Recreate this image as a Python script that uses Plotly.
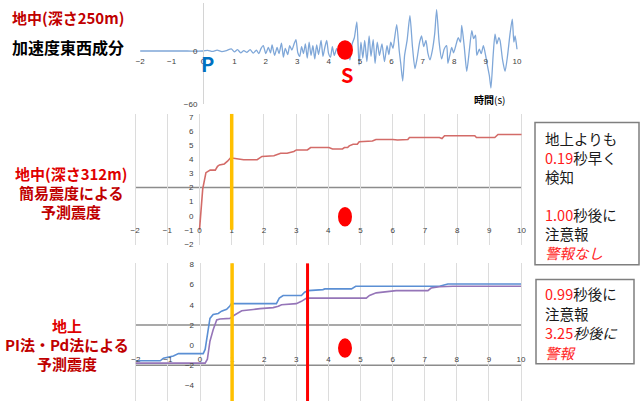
import plotly.graph_objects as go

W, H = 643, 406
def fx(px): return px / W
def fy(py): return 1 - py / H

# ---------------- data ----------------
tick_x = list(range(-2, 11))

# 地中(深さ250m) 加速度東西成分 (gal)
wave_t = [-2.0, -1.0, -0.5, 0.0, 0.15, 0.3, 0.45, 0.6, 0.75, 0.9, 1.0, 1.1, 1.2, 1.3, 1.4, 1.5, 1.6, 1.7,
          1.78, 1.85, 1.92, 2.0, 2.08, 2.15, 2.2, 2.28, 2.36, 2.42, 2.5, 2.56, 2.62, 2.7, 2.76, 2.83, 2.9,
          2.96, 3.02, 3.08, 3.14, 3.2, 3.26, 3.32, 3.38, 3.44, 3.5, 3.56, 3.62, 3.68, 3.76, 3.82, 3.88, 3.94,
          4.0, 4.06, 4.12, 4.18, 4.26, 4.32, 4.4, 4.5, 4.6, 4.68, 4.75, 4.82, 4.9, 4.97, 5.03, 5.09, 5.15,
          5.22, 5.29, 5.35, 5.42, 5.48, 5.55, 5.62, 5.7, 5.78, 5.86, 5.92, 5.98, 6.05, 6.1, 6.17, 6.25, 6.3,
          6.36, 6.42, 6.5, 6.59, 6.67, 6.75, 6.82, 6.9, 6.96, 7.03, 7.1, 7.16, 7.23, 7.3, 7.38, 7.44, 7.52,
          7.6, 7.68, 7.76, 7.8, 7.86, 7.92, 7.98, 8.05, 8.13, 8.2, 8.24, 8.32, 8.4, 8.48, 8.56, 8.62, 8.68,
          8.72, 8.8, 8.86, 8.93, 9.0, 9.05, 9.12, 9.17, 9.24, 9.3, 9.36, 9.42, 9.46, 9.54, 9.62, 9.7, 9.78,
          9.85, 9.9, 9.94, 10.0]
wave_a = [0, 0, 0, 0, 0.8, -0.5, 1, -0.8, 0.5, 2.5, -1, 1.5, -2, 0.5, -1.5, 1.5, -2.5, 1,
          -3, 3, 6, -3, 4, -2, 7, -5, 4, -3, 9, -7, 3, -4, 6, 1, 8,
          13, -2, -6, 5, -3, 8, -8, 10, -5, 6, -9, 7, -4, 12, -6, 4, 12,
          -3, -7, 5, -5, 3, -4, 2, -3, 6, -10, 8, 15, 33, -16, 10, -8, 12,
          -12, 17, -6, 13, -14, 10, -5, 8, -12, 6, -4, 10, 3, 14, 30, 0, -15,
          -34, -5, 12, 40, 5, -20, -8, 10, 17, 5, 12, -2, -10, 0, 20, 47, 10,
          -9, 2, 6, -14, -5, 4, -2, 6, 15, 10, 29, 5, -23, 0, 23, 14, 18,
          -5, 2, -3, 6, -5, -15, -28, -42, -5, 19, 8, 15, 12, -10, -23, -5, 20,
          36, 10, 17, 2]

# 地中(深さ312m) 簡易震度による予測震度
mid_t = [0.0, 0.1, 0.2, 0.33, 0.49, 0.56, 0.62, 0.77, 0.87, 0.96, 1.0, 1.27, 1.37, 1.79, 1.94, 2.31,
         2.52, 2.72, 2.93, 3.01, 3.35, 3.45, 4.02, 4.13, 4.44, 4.5, 4.6, 4.65, 4.77, 4.9, 4.96, 5.37,
         5.48, 6.0, 6.15, 6.47, 6.52, 7.45, 7.53, 7.61, 8.55, 8.6, 9.17, 9.27, 10.0]
mid_v = [-1.0, 1.9, 3.05, 3.23, 3.23, 3.5, 3.6, 3.67, 3.86, 4.09, 4.09, 4.0, 3.97, 3.97, 4.2, 4.25,
         4.43, 4.43, 4.55, 4.66, 4.66, 4.83, 4.83, 4.73, 4.73, 4.83, 4.83, 4.95, 5.06, 5.06, 5.24, 5.29,
         5.4, 5.4, 5.36, 5.4, 5.54, 5.54, 5.47, 5.66, 5.66, 5.54, 5.54, 5.75, 5.75]

# 地上 PI法
pl_t = [-2.0, -1.24, -1.14, -0.83, -0.67, 0.1, 0.16, 0.23, 0.31, 0.41, 0.57, 0.67, 0.83, 0.93, 0.98,
        2.38, 2.47, 2.59, 3.16, 3.26, 3.37, 3.83, 3.89, 4.72, 4.85, 7.46, 7.62, 7.72, 10.0]
pl_v = [-1.55, -1.55, -1.3, -1.07, -0.84, -0.84, -0.42, 1.04, 2.65, 3.04, 3.14, 3.37, 3.56, 3.88, 4.11,
        4.11, 4.66, 4.92, 4.92, 5.24, 5.4, 5.5, 5.57, 5.57, 5.83, 5.83, 5.95, 6.05, 6.05]

# 地上 Pd法
pd_t = [-2.0, 0.16, 0.23, 0.31, 0.41, 0.52, 0.62, 0.93, 1.04, 1.19, 1.3, 1.66, 1.87, 2.28, 2.44, 2.54,
        3.0, 3.16, 3.32, 5.18, 5.28, 5.49, 5.8, 6.11, 7.1, 7.2, 7.46, 7.88, 10.0]
pd_v = [-1.78, -1.78, -1.39, 0.39, 1.52, 2.5, 2.59, 2.65, 2.91, 3.24, 3.4, 3.53, 3.62, 3.72, 3.85, 4.01,
        4.11, 4.34, 4.66, 4.66, 4.92, 5.18, 5.31, 5.4, 5.4, 5.66, 5.79, 5.83, 5.83]

top_ticks_y = [-60, 0]
mid_ticks_y = list(range(-2, 8))
bot_ticks_y = [-4, -2, 0, 2, 4, 6, 8]
advisory_t = 1.0
warning_t = 3.35
threshold = 2

box1_lines = ["地上よりも",
              "<span style='color:#ff1a1a'>0.19</span>秒早く",
              "検知",
              "",
              "<span style='color:#ff1a1a'>1.00</span>秒後に",
              "注意報",
              "<span style='color:#ff1a1a'><i>警報なし</i></span>"]
box2_lines = ["<span style='color:#ff1a1a'>0.99</span>秒後に",
              "注意報",
              "<span style='color:#ff1a1a'>3.25</span><i>秒後に</i>",
              "<span style='color:#ff1a1a'><i>警報</i></span>"]

# ---------------- figure ----------------
fig = go.Figure()
fig.add_trace(go.Scatter(x=wave_t, y=wave_a, mode="lines", xaxis="x", yaxis="y",
                         line=dict(color="#7fa7d8", width=1.3, shape="spline", smoothing=0.6)))
fig.add_trace(go.Scatter(x=mid_t, y=mid_v, mode="lines", xaxis="x2", yaxis="y2",
                         line=dict(color="#d36b68", width=1.6)))
fig.add_trace(go.Scatter(x=pl_t, y=pl_v, mode="lines", xaxis="x3", yaxis="y3",
                         line=dict(color="#5b8fd4", width=1.6)))
fig.add_trace(go.Scatter(x=pd_t, y=pd_v, mode="lines", xaxis="x3", yaxis="y3",
                         line=dict(color="#9575b8", width=1.6)))

tickfont = dict(family="Liberation Sans, Arial", size=8, color="#404040")

# panel geometry (pixels)
t0 = [203, 199.5, 200]
unit = [31.4, 32.2, 32.1]
xr = [-2.2, 10.2]

def xdom(i):
    return [fx(t0[i] + xr[0] * unit[i]), fx(t0[i] + xr[1] * unit[i])]

ax_common = dict(showline=False, zeroline=False, ticks="", tickfont=tickfont, fixedrange=True)

fig.update_layout(
    width=W, height=H, margin=dict(l=0, r=0, t=0, b=0),
    paper_bgcolor="white", plot_bgcolor="rgba(0,0,0,0)", showlegend=False,
    xaxis=dict(domain=xdom(0), range=xr, anchor="free", position=fy(53), tickvals=tick_x,
               showgrid=False, **ax_common),
    yaxis=dict(domain=[fy(103), fy(0)], range=[-60, 54.4], anchor="free", position=fx(t0[0]),
               tickvals=top_ticks_y, showgrid=False, ticklabelstandoff=4,
               **{k: v for k, v in ax_common.items() if k != "showline"},
               showline=True, linecolor="#d4d4d4", linewidth=1),
    xaxis2=dict(domain=xdom(1), range=xr, anchor="free", position=fy(225), tickvals=tick_x,
                showgrid=True, gridcolor="#dcdcdc", gridwidth=1, **ax_common),
    yaxis2=dict(domain=[fy(247), fy(113)], range=[-2.08, 7.22], anchor="free", position=fx(t0[1]),
                tickvals=mid_ticks_y, showgrid=False, ticklabelstandoff=6, **ax_common),
    xaxis3=dict(domain=xdom(2), range=xr, anchor="free", position=fy(357), tickvals=tick_x,
                showgrid=True, gridcolor="#dcdcdc", gridwidth=1, **ax_common),
    yaxis3=dict(domain=[fy(406), fy(265.6)], range=[-5.53, 8.1], anchor="free", position=fx(t0[2]),
                tickvals=bot_ticks_y, showgrid=False, ticklabelstandoff=6, **ax_common),
)

shapes = []
# threshold lines
shapes.append(dict(type="line", xref="x2", yref="y2", x0=-2, x1=10, y0=threshold, y1=threshold,
                   line=dict(color="#8c8c8c", width=1.5), layer="below"))
for yv in [threshold, -threshold]:
    shapes.append(dict(type="line", xref="x3", yref="y3", x0=-2, x1=10, y0=yv, y1=yv,
                       line=dict(color="#8c8c8c", width=1.5), layer="below"))
# advisory / warning markers
shapes.append(dict(type="line", xref="x2", yref="y2", x0=advisory_t, x1=advisory_t, y0=-1, y1=7.22,
                   line=dict(color="#ffc000", width=3.5)))
shapes.append(dict(type="line", xref="x3", yref="y3 domain", x0=advisory_t, x1=advisory_t, y0=0, y1=1,
                   line=dict(color="#ffc000", width=3.5)))
shapes.append(dict(type="line", xref="x3", yref="y3 domain", x0=warning_t, x1=warning_t, y0=0, y1=1,
                   line=dict(color="#ff0000", width=3)))
# red dots (S-wave arrival marks)
for cx, cy, w, h in [(345, 48, 16, 20), (345, 218, 14, 20), (345, 352, 14, 20)]:
    shapes.append(dict(type="circle", xref="paper", yref="paper",
                       x0=fx(cx - w / 2), x1=fx(cx + w / 2), y0=fy(cy + h / 2), y1=fy(cy - h / 2),
                       fillcolor="#ff0000", line=dict(width=0)))
# text boxes
for x0, x1, y0, y1 in [(535, 639, 122, 267), (536, 634, 282, 368)]:
    shapes.append(dict(type="rect", xref="paper", yref="paper", x0=fx(x0), x1=fx(x1),
                       y0=fy(y1), y1=fy(y0), line=dict(color="#7f7f7f", width=1.5)))
fig.update_layout(shapes=shapes)

ann = []
jp = "Noto Sans CJK JP"
def txt(s, px, py, size, color, bold=False, xanchor="center"):
    ann.append(dict(text=(f"<b>{s}</b>" if bold else s), x=fx(px), y=fy(py), xref="paper", yref="paper",
                    showarrow=False, xanchor=xanchor, yanchor="middle",
                    font=dict(family=jp, size=size, color=color)))

txt("地中(深さ250m)", 10, 15, 15, "#c00000", True, "left")
txt("加速度東西成分", 10, 45, 16, "#000000", True, "left")
txt("地中(深さ312m)", 71, 174, 15, "#e00000", True)
txt("簡易震度による", 71, 193.5, 15, "#c00000", True)
txt("予測震度", 71, 213, 15, "#c00000", True)
txt("地上", 67, 329, 15, "#e00000", True)
txt("PI法・Pd法による", 67, 348.5, 15, "#c00000", True)
txt("予測震度", 67, 368, 15, "#c00000", True)
txt("P", 207, 62, 20, "#0070c0", True)
txt("S", 347, 73, 20, "#ff0000", True)
txt("<b>時間</b>(s)", 489, 98, 10, "#000000")
for i, s in enumerate(box1_lines):
    if s:
        txt(s, 543, 138 + i * 19.5, 14.5, "#1a1a1a", False, "left")
for i, s in enumerate(box2_lines):
    txt(s, 543, 296 + i * 20.3, 14.5, "#1a1a1a", False, "left")
fig.update_layout(annotations=ann)

fig.write_html("out.html", config={"displayModeBar": False})
